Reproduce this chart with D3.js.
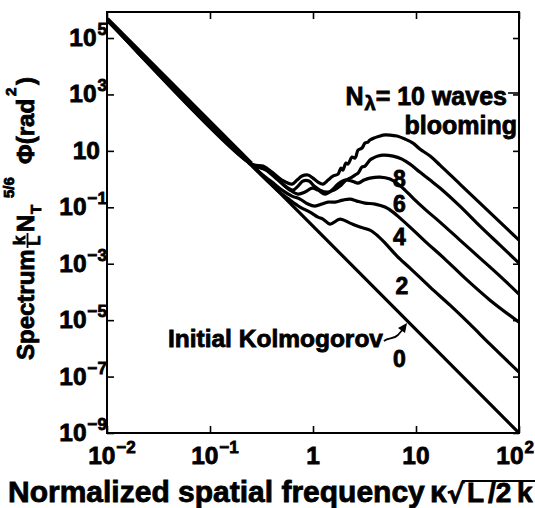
<!DOCTYPE html>
<html><head><meta charset="utf-8">
<script src="https://cdn.jsdelivr.net/npm/d3@7"></script>
<style>
html,body{margin:0;padding:0;background:#fff;}
svg{display:block;font-family:"Liberation Sans",Arial,Helvetica,sans-serif;font-weight:bold;}
svg text{stroke:#000;stroke-width:0.8px;paint-order:stroke;fill:#000;}
</style></head><body>
<svg id="chart" width="535" height="508"></svg>
<script>
// ---- data (kappa, Phi) ----
const kappaTicks = [0.01, 0.1, 1, 10, 100];
const kappaTickLabels = [["10","\u22122"],["10","\u22121"],["1",""],["10",""],["10","2"]];
const phiTicks = [1e5, 1e3, 1e1, 1e-1, 1e-3, 1e-5, 1e-7, 1e-9];
const phiTickLabels = [["10","5"],["10","3"],["10",""],["10","\u22121"],["10","\u22123"],["10","\u22125"],["10","\u22127"],["10","\u22129"]];

const kolmogorov = [[0.01,4.6e5],[100,1e-9]];
const bloom2 = [[0.01,4.6e5],[0.45,0.403],[0.598,0.180],[0.748,0.102],[0.935,0.0676],[1.119,0.0449],[1.25,0.0382],[1.46,0.0254],[1.83,0.0382],[2.29,0.0275],[2.86,0.0199],[3.57,0.0155],[4.28,0.00953],[5.12,0.00495],[6.54,0.00186],[8.75,0.000698],[13.7,0.000148],[21.4,3.40e-5],[33.4,7.21e-6],[52.3,1.41e-6],[100,1.43e-7]];
const bloom4 = [[0.01,4.6e5],[0.3,1.78],[0.400,0.783],[0.500,0.407],[0.625,0.250],[0.748,0.195],[0.893,0.130],[1.045,0.110],[1.22,0.130],[1.40,0.153],[1.64,0.153],[1.95,0.180],[2.29,0.195],[2.67,0.166],[3.20,0.141],[4.00,0.130],[5.00,0.102],[5.98,0.0676],[7.00,0.0414],[8.75,0.0199],[12.2,0.00633],[19.1,0.00146],[29.9,0.000308],[52.3,5.12e-5],[100,8.49e-6]];
const bloom6 = [[0.01,4.6e5],[0.25,3.47],[0.350,2.09],[0.457,0.922],[0.598,0.407],[0.715,0.294],[0.836,0.346],[0.977,0.480],[1.119,0.407],[1.31,0.294],[1.53,0.407],[1.75,0.665],[2.05,0.922],[2.39,0.849],[2.74,0.722],[3.13,0.922],[3.57,1.08],[4.47,1.18],[5.60,1.00],[6.69,0.665],[7.82,0.407],[9.35,0.212],[12.2,0.0863],[17.1,0.0299],[26.7,0.00687],[41.8,0.00158],[65.4,0.000363],[100,8.36e-5]];
const bloom8 = [[0.01,4.6e5],[0.25,3.47],[0.342,2.45],[0.428,1.28],[0.535,0.565],[0.640,0.407],[0.715,0.565],[0.800,0.849],[0.914,0.849],[1.023,0.565],[1.17,0.407],[1.37,0.346],[1.60,0.407],[1.83,0.565],[2.09,0.922],[2.29,1.08],[2.56,1.39],[2.74,1.63],[2.99,2.66],[3.20,2.89],[3.57,4.72],[3.83,5.55],[4.28,6.54],[4.78,7.10],[5.98,6.54],[7.31,5.12],[8.75,3.40],[10.9,1.77],[13.7,0.922],[17.1,0.480],[26.7,0.110],[41.8,0.0215],[65.4,0.00457],[100,0.00105]];
const bloom10 = [[0.01,4.6e5],[0.25,3.47],[0.327,2.89],[0.400,1.77],[0.500,0.922],[0.625,0.665],[0.700,0.922],[0.782,1.28],[0.893,1.39],[1.00,1.08],[1.119,0.783],[1.25,0.665],[1.40,0.922],[1.56,1.28],[1.75,1.50],[1.87,2.45],[1.95,2.09],[2.09,3.69],[2.19,3.40],[2.39,6.03],[2.56,5.55],[2.74,10.7],[2.99,12.6],[3.20,18.9],[3.42,20.5],[3.57,24.2],[3.91,28.4],[4.47,33.5],[4.78,36.3],[5.60,36.3],[6.54,33.5],[7.82,26.2],[9.35,18.9],[10.9,11.6],[13.7,6.54],[17.1,3.13],[26.7,0.665],[41.8,0.141],[65.4,0.0299],[100,0.00687]];

const curveLabels = ["0","2","4","6","8"];
const curveLabelAt = [[6.9,2.2e-7],[7.3,8.5e-5],[6.9,4.6e-3],[6.9,0.0665],[6.9,0.52]];

// ---- layout ----
const M = {left:107, right:519, top:12, bottom:433};
const x = d3.scaleLog().domain([0.01,100]).range([M.left, M.right]);
const y = d3.scaleLog().domain([1e-9, 8.36e5]).range([M.bottom, M.top]);
const svg = d3.select("#chart");

svg.append("defs").append("clipPath").attr("id","plotclip")
  .append("rect").attr("x",M.left).attr("y",M.top)
  .attr("width",M.right-M.left).attr("height",M.bottom-M.top);

function ticks(g){ g.select(".domain").remove(); g.selectAll(".tick line").attr("stroke","#000").attr("stroke-width",1.6); }
svg.append("g").attr("transform",`translate(0,${M.bottom})`)
  .call(d3.axisBottom(x).tickValues(kappaTicks).tickSize(-7).tickFormat("")).call(ticks);
svg.append("g").attr("transform",`translate(0,${M.top})`)
  .call(d3.axisTop(x).tickValues(kappaTicks).tickSize(-7).tickFormat("")).call(ticks);
svg.append("g").attr("transform",`translate(${M.left},0)`)
  .call(d3.axisLeft(y).tickValues(phiTicks).tickSize(-7).tickFormat("")).call(ticks);
svg.append("g").attr("transform",`translate(${M.right},0)`)
  .call(d3.axisRight(y).tickValues(phiTicks).tickSize(-6).tickFormat("")).call(ticks);

svg.append("rect").attr("x",M.left).attr("y",M.top)
  .attr("width",M.right-M.left).attr("height",M.bottom-M.top)
  .attr("fill","none").attr("stroke","#000").attr("stroke-width",2);

// x tick labels
kappaTicks.forEach((v,i)=>{
  const [b,s] = kappaTickLabels[i];
  const last = i===kappaTicks.length-1;
  const t = svg.append("text").attr("y",464).attr("font-size",24.5)
    .attr("text-anchor", last ? "end" : "middle")
    .attr("x", last ? 534 : x(v) + (s ? 5 : 0));
  t.append("tspan").text(b);
  if(s) t.append("tspan").attr("font-size",17).attr("dy",-11).attr("dx",1).text(s);
});
// y tick labels
phiTicks.forEach((v,i)=>{
  const [b,s] = phiTickLabels[i];
  const t = svg.append("text").attr("y",y(v)+8).attr("font-size",24.5)
    .attr("text-anchor","end").attr("x", s ? 107 : 100);
  t.append("tspan").text(b);
  if(s) t.append("tspan").attr("font-size",17).attr("dy",-11).attr("dx",1).text(s);
});

// curves
const line = d3.line().x(d=>x(d[0])).y(d=>y(d[1])).curve(d3.curveCatmullRom.alpha(0.5));
const plot = svg.append("g").attr("clip-path","url(#plotclip)");
plot.append("path").attr("d", d3.line().x(d=>x(d[0])).y(d=>y(d[1]))(bloom10.slice(0,2)))
  .attr("fill","none").attr("stroke","#000").attr("stroke-width",5);
[kolmogorov,bloom2,bloom4,bloom6,bloom8,bloom10].forEach(c=>{
  plot.append("path").attr("d", line(c)).attr("fill","none")
    .attr("stroke","#000").attr("stroke-width",3.2)
    .attr("stroke-linejoin","round").attr("stroke-linecap","round");
});

// curve labels
curveLabels.forEach((s,i)=>{
  svg.append("text").attr("x",x(curveLabelAt[i][0])).attr("y",y(curveLabelAt[i][1]))
    .attr("font-size",23).attr("text-anchor","middle").text(s);
});

// annotations
const ann = svg.append("text").attr("x",507).attr("y",105).attr("font-size",25).attr("text-anchor","end");
ann.append("tspan").text("N");
ann.append("tspan").attr("font-size",20).attr("dy",5).attr("dx",1).text("\u03bb");
ann.append("tspan").attr("dy",-5).text("= 10 waves");
svg.append("line").attr("x1",508).attr("x2",519).attr("y1",93).attr("y2",93).attr("stroke","#000").attr("stroke-width",1.6);
svg.append("text").attr("x",517).attr("y",134).attr("font-size",25).attr("text-anchor","end").text("blooming");

svg.append("text").attr("x",383).attr("y",347).attr("font-size",24.5).attr("text-anchor","end").text("Initial Kolmogorov");
svg.append("path").attr("d","M384,341 C389,337 393,340 398,335 L404,328")
  .attr("fill","none").attr("stroke","#000").attr("stroke-width",1.8);
svg.append("path").attr("d","M407,323 L398,328 L405,333 Z").attr("fill","#000");

// x title
svg.append("text").attr("x",8).attr("y",502).attr("font-size",30).text("Normalized spatial frequency");
svg.append("text").attr("x",430).attr("y",502).attr("font-size",30).text("\u03ba");
svg.append("text").attr("x",447).attr("y",503).attr("font-size",26).attr("font-family","DejaVu Sans").text("\u221a");
svg.append("text").attr("x",467).attr("y",502).attr("font-size",28).text("L");
svg.append("text").attr("x",488).attr("y",502).attr("font-size",28).text("/2");
svg.append("text").attr("x",517).attr("y",502).attr("font-size",28).text("k");
svg.append("line").attr("x1",462).attr("x2",535).attr("y1",481).attr("y2",481).attr("stroke","#000").attr("stroke-width",2);

// y title (rotated)
const yt = svg.append("g").attr("transform","translate(34,360) rotate(-90)");
yt.append("text").attr("x",0).attr("y",0).attr("font-size",24).text("Spectrum");
yt.append("text").attr("x",119.5).attr("y",-9).attr("font-size",17).attr("text-anchor","middle").text("k");
yt.append("line").attr("x1",112).attr("x2",127).attr("y1",-6.5).attr("y2",-6.5).attr("stroke","#000").attr("stroke-width",1.8);
yt.append("text").attr("x",119.5).attr("y",6).attr("font-size",16).attr("text-anchor","middle").text("L");
yt.append("text").attr("x",128).attr("y",0).attr("font-size",24).text("N");
yt.append("text").attr("x",146).attr("y",7).attr("font-size",15).text("T");
yt.append("text").attr("x",162).attr("y",-20).attr("font-size",15).text("5/6");
yt.append("text").attr("x",196).attr("y",0).attr("font-size",24).text("\u03a6(rad");
yt.append("text").attr("x",264).attr("y",-18).attr("font-size",15).text("2");
yt.append("text").attr("x",275).attr("y",0).attr("font-size",24).text(")");
</script></body></html>
